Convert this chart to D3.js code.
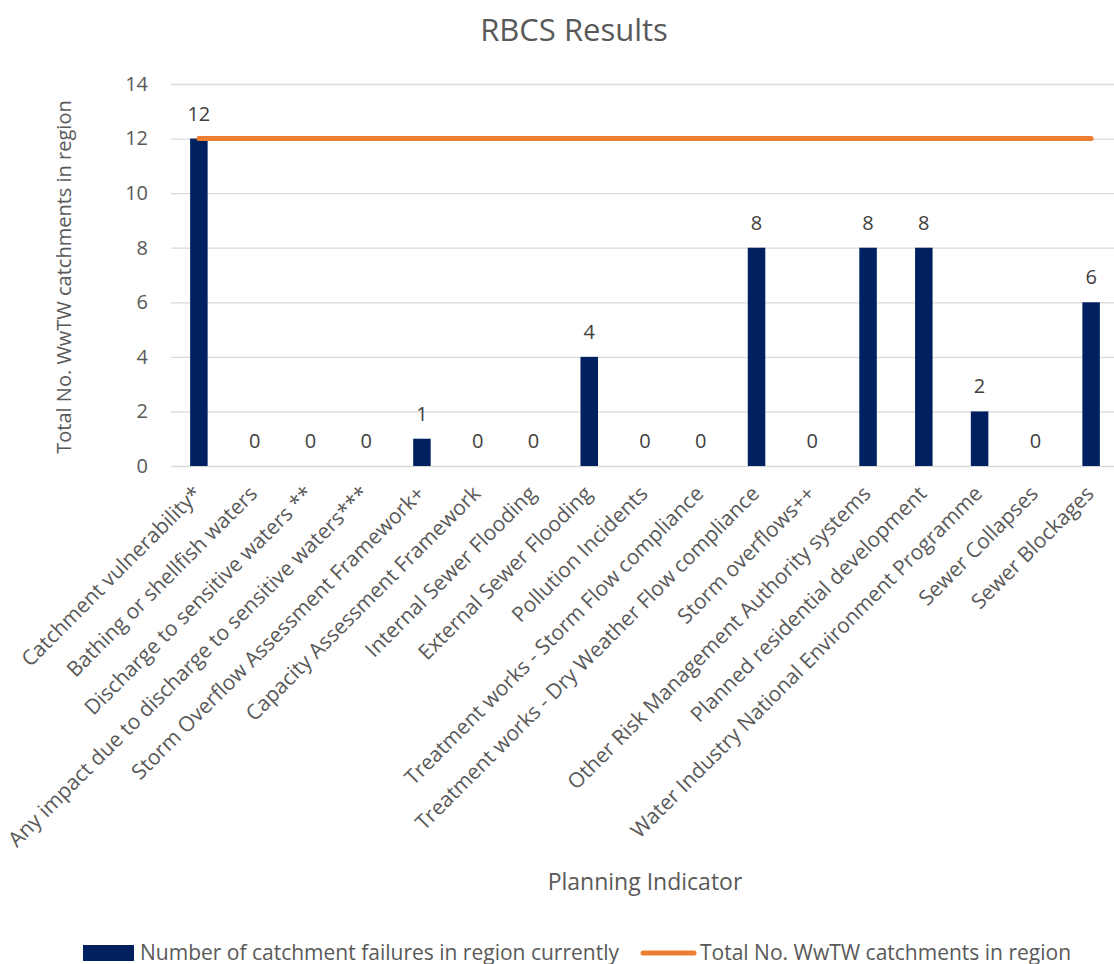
<!doctype html>
<html lang="en">
<head>
  <meta charset="UTF-8">
  <title>RBCS Results</title>
  <script src="https://cdn.jsdelivr.net/npm/d3@7"></script>
  <style>
    body { margin: 0; background: #fff; }
    text { font-family: "Open Sans", sans-serif; fill: #595959; }
  </style>
</head>
<body>
<svg width="1114" height="964" id="chart"></svg>
<script>
  var categories = [
    'Catchment vulnerability*',
    'Bathing or shellfish waters',
    'Discharge to sensitive waters **',
    'Any impact due to discharge to sensitive waters***',
    'Storm Overflow Assessment Framework+',
    'Capacity Assessment Framework',
    'Internal Sewer Flooding',
    'External Sewer Flooding',
    'Pollution Incidents',
    'Treatment works - Storm Flow compliance',
    'Treatment works - Dry Weather Flow compliance',
    'Storm overflows++',
    'Other Risk Management Authority systems',
    'Planned residential development',
    'Water Industry National Environment Programme',
    'Sewer Collapses',
    'Sewer Blockages'
  ];
  var failures = [12, 0, 0, 0, 1, 0, 0, 4, 0, 0, 8, 0, 8, 8, 2, 0, 6];
  var totals = [12, 12, 12, 12, 12, 12, 12, 12, 12, 12, 12, 12, 12, 12, 12, 12, 12];
  var yTicks = [0, 2, 4, 6, 8, 10, 12, 14];

  var svg = d3.select('#chart');
  var plotLeft = 171, plotRight = 1119, plotTop = 84, plotBottom = 466;

  var x = d3.scaleBand().domain(categories).range([plotLeft, plotRight])
    .paddingInner(0.686).paddingOuter(0.343);
  var y = d3.scaleLinear().domain([0, 14]).range([plotBottom, plotTop]);

  // title
  svg.append('text')
    .attr('x', 574).attr('y', 41)
    .attr('text-anchor', 'middle')
    .attr('font-size', 31)
    .text('RBCS Results');

  // gridlines + y labels
  var yAxis = svg.append('g')
    .attr('transform', 'translate(' + plotLeft + ',0)')
    .call(d3.axisLeft(y).tickValues(yTicks).tickSize(-(plotRight - plotLeft)).tickPadding(23));
  yAxis.select('.domain').remove();
  yAxis.selectAll('.tick line').attr('stroke', '#d9d9d9').attr('stroke-width', 1.3);
  yAxis.selectAll('.tick text').attr('font-size', 20).attr('fill', '#595959')
    .style('font-family', '"Open Sans", sans-serif');

  // bars
  svg.selectAll('.bar').data(failures).enter().append('rect').attr('class', 'bar')
    .attr('x', function (d, i) { return x(categories[i]); })
    .attr('y', function (d) { return y(d); })
    .attr('width', x.bandwidth())
    .attr('height', function (d) { return y(0) - y(d); })
    .attr('fill', '#002060');

  // total line
  var line = d3.line()
    .x(function (d, i) { return x(categories[i]) + x.bandwidth() / 2; })
    .y(function (d) { return y(d); });
  svg.append('path').datum(totals)
    .attr('d', line)
    .attr('fill', 'none')
    .attr('stroke', '#ED7D31')
    .attr('stroke-width', 5)
    .attr('stroke-linecap', 'round');

  // data labels
  svg.selectAll('.lbl').data(failures).enter().append('text').attr('class', 'lbl')
    .attr('x', function (d, i) { return x(categories[i]) + x.bandwidth() / 2; })
    .attr('y', function (d) { return y(d) - 18; })
    .attr('text-anchor', 'middle')
    .attr('font-size', 20)
    .style('fill', '#404040')
    .text(function (d) { return d; });

  // category labels
  svg.selectAll('.cat').data(categories).enter().append('text').attr('class', 'cat')
    .attr('transform', function (d) {
      return 'translate(' + (x(d) + x.bandwidth() / 2 + 4) + ',' + (plotBottom + 29) + ') rotate(-45)';
    })
    .attr('text-anchor', 'end')
    .attr('font-size', 21)
    .text(function (d) { return d; });

  // axis titles
  svg.append('text')
    .attr('transform', 'translate(71,277) rotate(-90)')
    .attr('text-anchor', 'middle')
    .attr('font-size', 20)
    .text('Total No. WwTW catchments in region');

  svg.append('text')
    .attr('x', 645).attr('y', 890)
    .attr('text-anchor', 'middle')
    .attr('font-size', 23)
    .text('Planning Indicator');

  // legend
  var legend = svg.append('g');
  legend.append('rect')
    .attr('x', 83).attr('y', 945).attr('width', 51).attr('height', 16)
    .attr('fill', '#002060');
  legend.append('text')
    .attr('x', 140).attr('y', 960)
    .attr('font-size', 21)
    .text('Number of catchment failures in region currently');
  legend.append('line')
    .attr('x1', 643).attr('x2', 694).attr('y1', 953).attr('y2', 953)
    .attr('stroke', '#ED7D31').attr('stroke-width', 5).attr('stroke-linecap', 'round');
  legend.append('text')
    .attr('x', 700).attr('y', 960)
    .attr('font-size', 21)
    .text('Total No. WwTW catchments in region');
</script>
</body>
</html>
